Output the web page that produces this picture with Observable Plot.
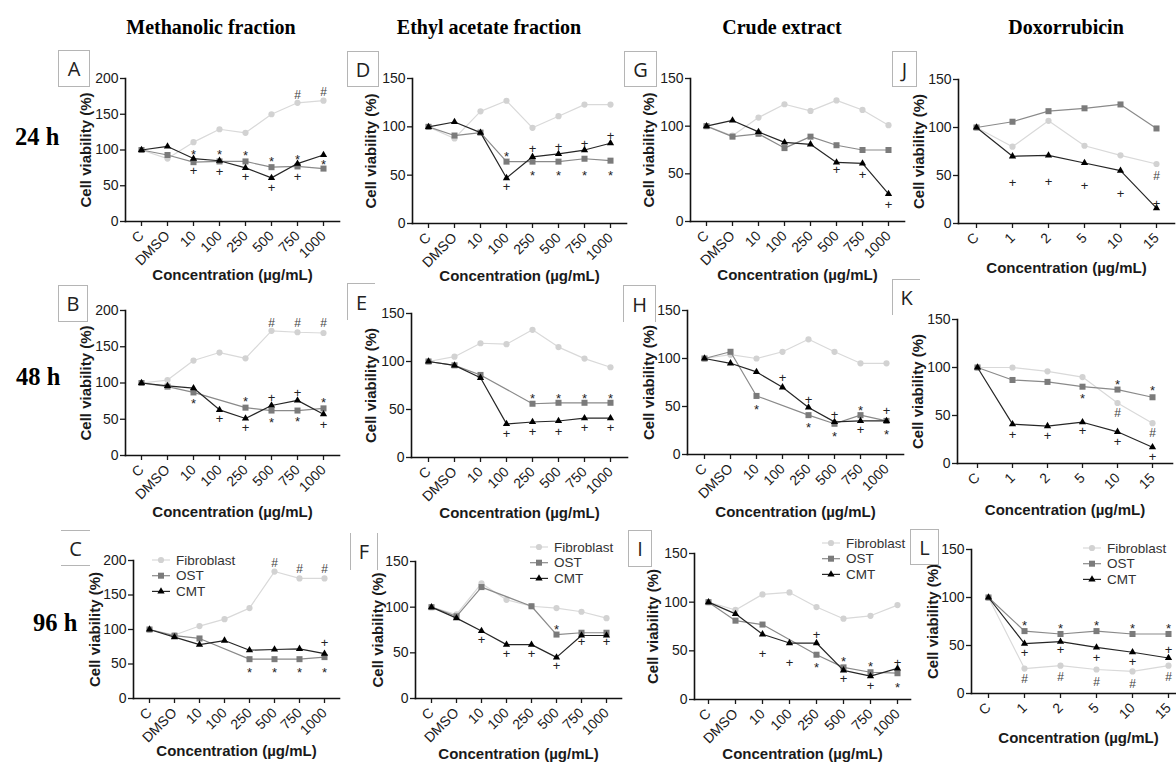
<!DOCTYPE html>
<html><head><meta charset="utf-8">
<script src="https://cdn.jsdelivr.net/npm/d3@7"></script>
<script src="https://cdn.jsdelivr.net/npm/@observablehq/plot@0.6"></script>
<style>
html,body{margin:0;padding:0;background:#fff;overflow:hidden}
#fig{position:relative;width:1176px;height:764px;overflow:hidden;background:#fff;font-family:"Liberation Sans",Arial,sans-serif}
.title{position:absolute;font-family:"Liberation Serif","Times New Roman",serif;font-weight:bold;font-size:20px;line-height:20px;color:#000;white-space:nowrap;transform:translateX(-50%)}
.rowlab{position:absolute;font-family:"Liberation Serif","Times New Roman",serif;font-weight:bold;font-size:24.5px;line-height:24.5px;color:#000;white-space:nowrap;transform:translateY(-50%)}
.box{position:absolute;box-sizing:border-box;font-family:"Open Sans","Liberation Sans",sans-serif;font-size:20px;color:#222;display:flex;align-items:center;justify-content:center}
.panel{position:absolute}
.panel svg text{font-family:"Liberation Sans",Arial,sans-serif}
g[aria-label="x-axis label"] text, g[aria-label="y-axis label"] text{font-size:15px;font-weight:bold}
.legend text{font-family:"Liberation Sans",Arial,sans-serif;font-size:13.5px;fill:#333}
</style>
</head><body><div id="fig"></div>
<script>
// ---------- categories, series, labels ----------
const fractionDoses = ["C","DMSO","10","100","250","500","750","1000"];
const doxoDoses = ["C","1","2","5","10","15"];
const seriesNames = ["Fibroblast","OST","CMT"];
const columnTitles = ["Methanolic fraction","Ethyl acetate fraction","Crude extract","Doxorrubicin"];
const rowTitles = ["24 h","48 h","96 h"];
const yAxisTitle = "Cell viability (%)";
const xAxisTitle = "Concentration (µg/mL)";

// ---------- 24 h ----------
const A_fib = [100, 88, 111, 129, 124, 150, 166, 169];
const A_ost = [100, 93, 83, 84, 84, 76, 77, 74];
const A_cmt = [100, 105, 88, 85, 75, 61, 81, 93];
const A_notes = [["10","*",98],["10","+",71],["100","*",97],["100","+",70],["250","*",96],["250","+",62],["500","*",88],["500","+",47],["750","*",91],["750","+",63],["750","#",177],["1000","#",181],["1000","*",84]];

const D_fib = [100, 88, 116, 127, 99, 111, 123, 123];
const D_ost = [100, 91, 94, 64, 64, 64, 67, 65];
const D_cmt = [100, 105, 94, 47, 69, 72, 76, 83];
const D_notes = [["100","*",72],["100","+",38],["250","+",77],["250","*",52],["500","+",79],["500","*",52],["750","+",82],["750","*",52],["1000","+",91],["1000","*",52]];

const G_fib = [100, 90, 109, 123, 116, 127, 117, 101];
const G_ost = [100, 89, 92, 77, 89, 80, 75, 75];
const G_cmt = [100, 106, 94, 83, 81, 62, 61, 29];
const G_notes = [["500","+",54],["750","+",49],["1000","+",17]];

const J_fib = [100, 80, 107, 81, 71, 62];
const J_ost = [100, 106, 117, 120, 124, 99];
const J_cmt = [100, 70, 71, 63, 55, 16];
const J_notes = [["1","+",42],["2","+",43],["5","+",39],["10","+",31],["15","+",20],["15","#",49]];

// ---------- 48 h ----------
const B_fib = [100, 104, 131, 142, 134, 172, 170, 169];
const B_ost = [100, 95, 87, null, 66, 62, 62, 65];
const B_cmt = [100, 96, 93, 63, 51, 69, 76, 57];
const B_notes = [["10","*",75],["100","+",50],["250","*",78],["250","+",38],["500","#",182],["500","+",80],["500","*",49],["750","#",182],["750","+",87],["750","*",50],["1000","#",182],["1000","*",77],["1000","+",42]];

const E_fib = [100, 105, 119, 118, 133, 115, 103, 94];
const E_ost = [100, 96, 86, null, 56, 57, 57, 57];
const E_cmt = [100, 96, 83, 35, 37, 38, 41, 41];
const E_notes = [["100","+",25],["250","*",64],["250","+",27],["500","*",64],["500","+",27],["750","*",64],["750","+",31],["1000","*",64],["1000","+",31]];

const H_fib = [100, 104, 100, 107, 120, 107, 95, 95];
const H_ost = [100, 107, 61, null, 41, 32, 41, 35];
const H_cmt = [100, 95, 86, 70, 49, 34, 35, 35];
const H_notes = [["10","*",50],["100","+",80],["250","+",57],["250","*",31],["500","+",41],["500","*",22],["750","*",49],["750","+",26],["1000","+",45],["1000","*",24]];

const K_fib = [100, 100, 96, 90, 63, 42];
const K_ost = [100, 87, 85, 80, 77, 69];
const K_cmt = [100, 41, 39, 43, 33, 17];
const K_notes = [["1","+",30],["2","+",29],["5","+",34],["5","*",70],["10","*",85],["10","#",52],["10","+",23],["15","*",79],["15","#",32],["15","+",7]];

// ---------- 96 h ----------
const C_fib = [100, 92, 105, 115, 131, 184, 174, 174];
const C_ost = [100, 91, 87, null, 57, 57, 57, 60];
const C_cmt = [100, 89, 78, 84, 70, 71, 72, 65];
const C_notes = [["250","*",42],["500","*",42],["750","*",42],["1000","*",42],["1000","+",80],["500","#",196],["750","#",188],["1000","#",188]];

const F_fib = [100, 92, 126, 108, 101, 99, 95, 88];
const F_ost = [100, 90, 122, null, 101, 70, 72, 72];
const F_cmt = [100, 88, 74, 59, 59, 45, 69, 69];
const F_notes = [["10","+",64],["100","+",49],["250","+",49],["500","*",78],["500","+",36],["750","+",62],["1000","+",62]];

const I_fib = [100, 92, 108, 110, 95, 83, 86, 97];
const I_ost = [100, 81, 77, null, 46, 33, 28, 27];
const I_cmt = [100, 88, 67, 58, 58, 30, 24, 32];
const I_notes = [["10","+",47],["100","+",38],["250","+",66],["250","*",36],["500","*",42],["500","+",21],["750","*",37],["750","+",14],["1000","+",38],["1000","*",15]];

const L_fib = [100, 26, 29, 25, 23, 29];
const L_ost = [100, 65, 62, 65, 62, 62];
const L_cmt = [100, 52, 54, 48, 43, 37];
const L_notes = [["1","*",74],["2","*",71],["5","*",74],["10","*",71],["15","*",71],["1","+",42],["2","+",45],["5","+",37],["10","+",33],["15","+",45],["1","#",15],["2","#",17],["5","#",12],["10","#",10],["15","#",17]];

const panels = [
  {id:"A", doses:fractionDoses, ymax:200, values:[A_fib,A_ost,A_cmt], notes:A_notes},
  {id:"D", doses:fractionDoses, ymax:150, values:[D_fib,D_ost,D_cmt], notes:D_notes},
  {id:"G", doses:fractionDoses, ymax:150, values:[G_fib,G_ost,G_cmt], notes:G_notes},
  {id:"J", doses:doxoDoses, ymax:150, values:[J_fib,J_ost,J_cmt], notes:J_notes},
  {id:"B", doses:fractionDoses, ymax:200, values:[B_fib,B_ost,B_cmt], notes:B_notes},
  {id:"E", doses:fractionDoses, ymax:150, values:[E_fib,E_ost,E_cmt], notes:E_notes},
  {id:"H", doses:fractionDoses, ymax:150, values:[H_fib,H_ost,H_cmt], notes:H_notes},
  {id:"K", doses:doxoDoses, ymax:150, values:[K_fib,K_ost,K_cmt], notes:K_notes},
  {id:"C", doses:fractionDoses, ymax:200, values:[C_fib,C_ost,C_cmt], notes:C_notes},
  {id:"F", doses:fractionDoses, ymax:150, values:[F_fib,F_ost,F_cmt], notes:F_notes},
  {id:"I", doses:fractionDoses, ymax:150, values:[I_fib,I_ost,I_cmt], notes:I_notes},
  {id:"L", doses:doxoDoses, ymax:150, values:[L_fib,L_ost,L_cmt], notes:L_notes}
];

// ---------- layout (pixels) ----------
const layout = {
  A:{x0:125,yTop:78,yBot:221,w:214,pad:0.5,yLab:80,xLab:275,box:[58,50,32,37,"tlrb"]},
  D:{x0:412,yTop:78,yBot:223,w:214,pad:0.5,yLab:365,xLab:276,box:[347,51,32,36,"tlrb"]},
  G:{x0:690,yTop:78,yBot:221,w:214,pad:0.5,yLab:643,xLab:275,box:[624,51,33,36,"tlrb"]},
  J:{x0:958,yTop:79,yBot:223,w:216,pad:0.5,yLab:913,xLab:268,box:[892,51,25,36,"tlrb"]},
  B:{x0:125,yTop:310,yBot:455,w:214,pad:0.5,yLab:80,xLab:512,box:[58,285,30,37,"tlrb"]},
  E:{x0:411,yTop:313,yBot:457,w:216,pad:0.55,yLab:365,xLab:513,box:[347,283,28,37,"tl"]},
  H:{x0:687,yTop:310,yBot:454,w:216,pad:0.6,yLab:643,xLab:512,box:[623,285,33,37,"tlr"]},
  K:{x0:957,yTop:319,yBot:463,w:215,pad:0.5,yLab:912,xLab:510,box:[892,279,28,36,"tl"]},
  C:{x0:133,yTop:560,yBot:698,w:206,pad:0.5,yLab:89,xLab:751,box:[61,530,29,36,"tb"],legend:[152,560]},
  F:{x0:415,yTop:561,yBot:698,w:206,pad:0.47,yLab:372,xLab:754,box:[350,533,28,37,"lr"],legend:[530,547]},
  I:{x0:694,yTop:553,yBot:699,w:216,pad:0.5,yLab:647,xLab:754,box:[628,530,24,37,"tlrb"],legend:[822,543]},
  L:{x0:971,yTop:549,yBot:693,w:214,pad:0.41,yLab:927,xLab:738,box:[910,529,29,36,"tlrb"],legend:[1083,548]}
};
const titleX = [211, 489, 782, 1066];
const rowLab = [[15,137],[16,377],[33,623]];

const seriesStyle = [
  {line:"#d9d9d9", fill:"#d2d2d2", symbol:"circle", r:3.1},
  {line:"#8a8a8a", fill:"#7b7b7b", symbol:"square", r:3.4},
  {line:"#262626", fill:"#000000", symbol:"triangle", r:2.7}
];

const fig = document.getElementById("fig");

columnTitles.forEach((t,i)=>{
  const d = document.createElement("div");
  d.className="title"; d.textContent=t; d.style.left=titleX[i]+"px"; d.style.top="17px";
  fig.appendChild(d);
});
rowTitles.forEach((t,i)=>{
  const d = document.createElement("div");
  d.className="rowlab"; d.textContent=t; d.style.left=rowLab[i][0]+"px"; d.style.top=rowLab[i][1]+"px";
  fig.appendChild(d);
});

panels.forEach(p=>{
  const L = layout[p.id];
  const mT = 30, mL = 60, mR = 14, mB = 95;
  const plotH = L.yBot - L.yTop;
  const width = mL + L.w + mR, height = mT + plotH + mB;
  const notes = p.notes.map(([dose,sym,value])=>({dose,sym,value}));
  const yTicks = d3.range(0, p.ymax + 1, 50);
  const marks = [];
  seriesNames.forEach((s,si)=>{
    const st = seriesStyle[si];
    const rows = p.doses.map((dose,i)=>({series:s, dose, value:p.values[si][i]})).filter(d=>d.value != null);
    marks.push(Plot.line(rows,{x:"dose",y:"value",stroke:st.line,strokeWidth:1.2}));
    marks.push(Plot.dot(rows,{x:"dose",y:"value",symbol:st.symbol,fill:st.fill,stroke:"none",r:st.r}));
  });
  marks.push(Plot.text(notes.filter(d=>d.sym==="*"),{x:"dose",y:"value",text:"sym",dy:3,fontSize:13,fill:"#222"}));
  marks.push(Plot.text(notes.filter(d=>d.sym==="+"),{x:"dose",y:"value",text:"sym",fontSize:13,fill:"#222"}));
  marks.push(Plot.text(notes.filter(d=>d.sym==="#"),{x:"dose",y:"value",text:"sym",fontSize:12,fill:"#444"}));
  marks.push(Plot.axisY({ticks:yTicks,tickSize:5,tickPadding:2,fontSize:14,strokeWidth:1.3,
    label:yAxisTitle,labelAnchor:"center",labelArrow:"none",labelOffset:L.x0 - L.yLab}));
  marks.push(Plot.axisX({tickRotate:-45,tickSize:5,tickPadding:7,fontSize:14,strokeWidth:1.3,
    label:xAxisTitle,labelAnchor:"center",labelOffset:L.xLab - L.yBot + 4}));
  marks.push(Plot.frame({anchor:"left",stroke:"#111",strokeWidth:1.6}));
  marks.push(Plot.frame({anchor:"bottom",stroke:"#111",strokeWidth:1.6}));
  const svg = Plot.plot({
    width, height, marginTop:mT, marginLeft:mL, marginRight:mR, marginBottom:mB,
    style:{background:"transparent",overflow:"visible",color:"#1a1a1a",maxWidth:"none"},
    x:{type:"point",domain:p.doses,padding:L.pad},
    y:{domain:[0,p.ymax]},
    marks
  });
  const wrap = document.createElement("div");
  wrap.className="panel";
  wrap.style.left=(L.x0-mL)+"px"; wrap.style.top=(L.yTop-mT)+"px";
  wrap.appendChild(svg);
  fig.appendChild(wrap);

  // letter box
  const [bx,by,bw,bh,sides] = L.box;
  const b = document.createElement("div");
  b.className="box"; b.textContent=p.id;
  Object.assign(b.style,{left:bx+"px",top:by+"px",width:bw+"px",height:bh+"px"});
  const bc = "1px solid #b5b5b5";
  if (sides.includes("t")) b.style.borderTop=bc;
  if (sides.includes("l")) b.style.borderLeft=bc;
  if (sides.includes("r")) b.style.borderRight=bc;
  if (sides.includes("b")) b.style.borderBottom=bc;
  fig.appendChild(b);

  // legend
  if (L.legend) {
    const [lx,ly] = L.legend;
    const g = d3.select(fig).append("svg").attr("class","legend")
      .style("position","absolute").style("left",(lx-2)+"px").style("top",(ly-9)+"px")
      .attr("width",120).attr("height",52);
    seriesNames.forEach((s,si)=>{
      const st = seriesStyle[si];
      const yy = 9 + si*15.7;
      g.append("line").attr("x1",2).attr("x2",20).attr("y1",yy).attr("y2",yy)
        .attr("stroke",st.line).attr("stroke-width",1.2);
      const type = si===0?d3.symbolCircle:si===1?d3.symbolSquare:d3.symbolTriangle;
      g.append("path").attr("d",d3.symbol().type(type).size(Math.PI*st.r*st.r)())
        .attr("transform",`translate(11,${yy})`).attr("fill",st.fill);
      g.append("text").attr("x",26).attr("y",yy).attr("dy","0.35em").text(s);
    });
  }
});
</script></body></html>
